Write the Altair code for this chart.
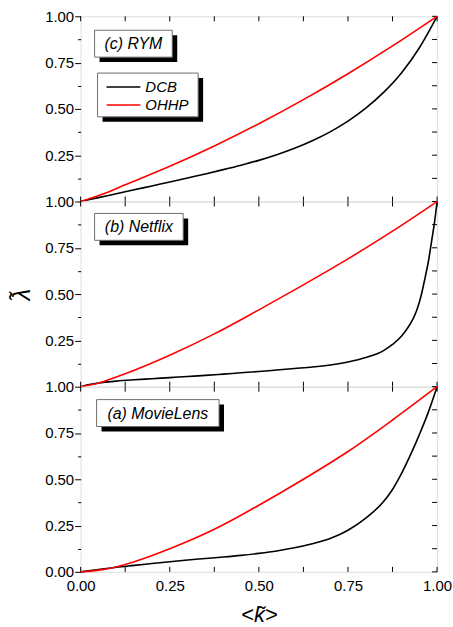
import altair as alt
import pandas as pd

FONT = "Liberation Sans"
W, H = 358, 186

series_names = ["DCB", "OHHP"]
series_colors = ["#000000", "#ff0000"]

major_ticks = [0.0, 0.25, 0.5, 0.75, 1.0]
upper_labels = [0.25, 0.5, 0.75, 1.0]
minor_ticks = [0.125, 0.375, 0.625, 0.875]
all_ticks = [0.0, 0.125, 0.25, 0.375, 0.5, 0.625, 0.75, 0.875, 1.0]

# (c) RYM
rym_dcb_x = [0, 0.05, 0.1, 0.15, 0.2, 0.25, 0.3, 0.35, 0.4, 0.45, 0.5, 0.55, 0.6, 0.65, 0.7, 0.75, 0.8, 0.85, 0.9, 0.95, 1]
rym_dcb_y = [0, 0.021, 0.042, 0.063, 0.084, 0.105, 0.127, 0.149, 0.172, 0.196, 0.222, 0.252, 0.287, 0.328, 0.376, 0.434, 0.504, 0.589, 0.694, 0.829, 1.0]
rym_ohhp_x = [0, 0.0625, 0.125, 0.25, 0.375, 0.5, 0.625, 0.75, 0.875, 1]
rym_ohhp_y = [0, 0.04, 0.09, 0.19, 0.30, 0.42, 0.55, 0.69, 0.84, 1]

# (b) Netflix
nf_dcb_x = [0, 0.02, 0.05, 0.1, 0.15, 0.2, 0.25, 0.3, 0.35, 0.4, 0.45, 0.5, 0.55, 0.6, 0.65, 0.7, 0.75,
            0.8, 0.85, 0.875, 0.9, 0.915, 0.93, 0.943, 0.955, 0.966, 0.976, 0.985, 0.993, 1]
nf_dcb_y = [0, 0.01, 0.02, 0.03, 0.037, 0.043, 0.049, 0.055, 0.061, 0.068, 0.075, 0.082, 0.09, 0.098, 0.106, 0.117, 0.133,
            0.157, 0.195, 0.228, 0.272, 0.31, 0.357, 0.413, 0.49, 0.585, 0.68, 0.79, 0.89, 1]
nf_ohhp_x = [0, 0.03, 0.0625, 0.125, 0.25, 0.375, 0.5, 0.625, 0.75, 0.875, 1]
nf_ohhp_y = [0, 0.01, 0.027, 0.07, 0.17, 0.285, 0.415, 0.55, 0.69, 0.84, 1]

# (a) MovieLens
ml_dcb_x = [0, 0.05, 0.1, 0.15, 0.2, 0.25, 0.3, 0.35, 0.4, 0.45, 0.5, 0.55, 0.6, 0.65, 0.7, 0.75,
            0.8, 0.85, 0.875, 0.9, 0.925, 0.95, 0.975, 1]
ml_dcb_y = [0, 0.013, 0.025, 0.035, 0.045, 0.055, 0.064, 0.072, 0.08, 0.089, 0.10, 0.113, 0.13, 0.152, 0.18, 0.225,
            0.29, 0.38, 0.445, 0.53, 0.63, 0.74, 0.86, 1]
ml_ohhp_x = [0, 0.0625, 0.125, 0.25, 0.375, 0.5, 0.625, 0.75, 0.875, 1]
ml_ohhp_y = [0, 0.012, 0.04, 0.125, 0.23, 0.36, 0.50, 0.65, 0.82, 1]

panel_titles = ["(c) RYM", "(b) Netflix", "(a) MovieLens"]
x_title = "<k\u0303>"
y_title = "\u03bb\u0303"

one = pd.DataFrame({"a": [0]})
ticks_df = pd.DataFrame({"t": all_ticks})
xs = alt.Scale(domain=[0, 1], nice=False, zero=False)
ys = alt.Scale(domain=[0, 1], nice=False, zero=False)
cscale = alt.Scale(domain=series_names, range=series_colors)


def make_df(dx, dy, ox, oy):
    a = pd.DataFrame({"x": dx, "y": dy, "series": series_names[0]})
    b = pd.DataFrame({"x": ox, "y": oy, "series": series_names[1]})
    return pd.concat([a, b], ignore_index=True)


def box(x0, y0, x1, y1, label=None):
    shadow = alt.Chart(one).mark_rect(color="black").encode(
        x=alt.value(x0 + 5), x2=alt.value(x1 + 5), y=alt.value(y0 + 5), y2=alt.value(y1 + 5))
    frame = alt.Chart(one).mark_rect(fill="white", stroke="#6e6e6e", strokeWidth=1).encode(
        x=alt.value(x0), x2=alt.value(x1), y=alt.value(y0), y2=alt.value(y1))
    layers = [shadow, frame]
    if label is not None:
        txt = alt.Chart(one).mark_text(font=FONT, fontStyle="italic", fontSize=16,
                                       align="center", baseline="middle", color="black").encode(
            x=alt.value((x0 + x1) / 2), y=alt.value((y0 + y1) / 2 + 0.5), text=alt.value(label))
        layers.append(txt)
    return layers


def inward_ticks():
    tl = 5
    top = alt.Chart(ticks_df).mark_rule(color="black", strokeWidth=1).encode(
        x=alt.X("t:Q", scale=xs, axis=None), y=alt.value(0), y2=alt.value(tl))
    bottom = alt.Chart(ticks_df).mark_rule(color="black", strokeWidth=1).encode(
        x=alt.X("t:Q", scale=xs, axis=None), y=alt.value(H - tl), y2=alt.value(H))
    right = alt.Chart(ticks_df).mark_rule(color="black", strokeWidth=1).encode(
        y=alt.Y("t:Q", scale=ys, axis=None), x=alt.value(W - tl), x2=alt.value(W))
    return [top, bottom, right]


def panel(df, label, bx, bottom=False, ytitle=None, legend=False):
    if bottom:
        xaxis = alt.Axis(orient="bottom", values=major_ticks, format=".2f", ticks=False,
                         domain=False, grid=False, labelFontSize=15, labelPadding=7,
                         labelFont=FONT, labelColor="black", labelFlush=False,
                         title=x_title, titleFont=FONT, titleFontSize=22, titleFontWeight="normal",
                         titleFontStyle="italic", titlePadding=11, titleColor="black")
    else:
        xaxis = None
    yvals = major_ticks if bottom else upper_labels
    if ytitle:
        yaxis = alt.Axis(orient="left", values=yvals, format=".2f", tickSize=6, tickColor="black",
                         domain=False, grid=False, labelFontSize=15, labelPadding=1, labelFont=FONT,
                         labelColor="black", labelFlush=False, title=ytitle, titleFont=FONT,
                         titleFontSize=24, titleFontWeight="normal", titleFontStyle="italic",
                         titlePadding=10, titleColor="black")
    else:
        yaxis = alt.Axis(orient="left", values=yvals, format=".2f", tickSize=6, tickColor="black",
                         domain=False, grid=False, labelFontSize=15, labelPadding=1, labelFont=FONT,
                         labelColor="black", labelFlush=False, title=None)
    lines = alt.Chart(df).mark_line(strokeWidth=1.6, interpolate="monotone").encode(
        x=alt.X("x:Q", scale=xs, axis=xaxis),
        y=alt.Y("y:Q", scale=ys, axis=yaxis),
        color=alt.Color("series:N", scale=cscale, legend=None),
        detail="series:N",
    )
    minor_left = alt.Chart(df).mark_line(strokeOpacity=0).encode(
        x=alt.X("x:Q", scale=xs, axis=None),
        y=alt.Y("y:Q", scale=ys, axis=alt.Axis(orient="left", values=minor_ticks, tickSize=3,
                                                tickColor="black", labels=False, domain=False,
                                                grid=False, title=None)),
        detail="series:N",
    )
    layers = [minor_left] + inward_ticks()
    layers += box(*bx, label=label)
    if legend:
        lx0, ly0, lx1, ly1 = 17, 57, 118, 101
        layers += box(lx0, ly0, lx1, ly1)
        rows = [71, 89]
        for name, col, ry in zip(series_names, series_colors, rows):
            layers.append(alt.Chart(one).mark_rule(color=col, strokeWidth=1.6).encode(
                x=alt.value(26), x2=alt.value(60), y=alt.value(ry)))
            layers.append(alt.Chart(one).mark_text(font=FONT, fontStyle="italic", fontSize=15,
                                                   align="left", baseline="middle", color="black").encode(
                x=alt.value(65), y=alt.value(ry + 0.5), text=alt.value(name)))
    layers.append(lines)
    return alt.layer(*layers).resolve_axis(x="independent", y="independent").properties(width=W, height=H)


p_c = panel(make_df(rym_dcb_x, rym_dcb_y, rym_ohhp_x, rym_ohhp_y), panel_titles[0],
            (14, 14, 92, 41), legend=True)
p_b = panel(make_df(nf_dcb_x, nf_dcb_y, nf_ohhp_x, nf_ohhp_y), panel_titles[1],
            (14, 12, 103, 39), ytitle=y_title)
p_a = panel(make_df(ml_dcb_x, ml_dcb_y, ml_ohhp_x, ml_ohhp_y), panel_titles[2],
            (16, 13, 139, 40), bottom=True)

chart = alt.vconcat(p_c, p_b, p_a, spacing=0, bounds="flush").properties(
    padding={"left": 10, "top": 7, "right": 0, "bottom": 0}
).configure_view(
    stroke="black", strokeWidth=1.5
).configure(background="white", font=FONT)

chart.save("out.html", embed_options={"renderer": "svg", "actions": False})
